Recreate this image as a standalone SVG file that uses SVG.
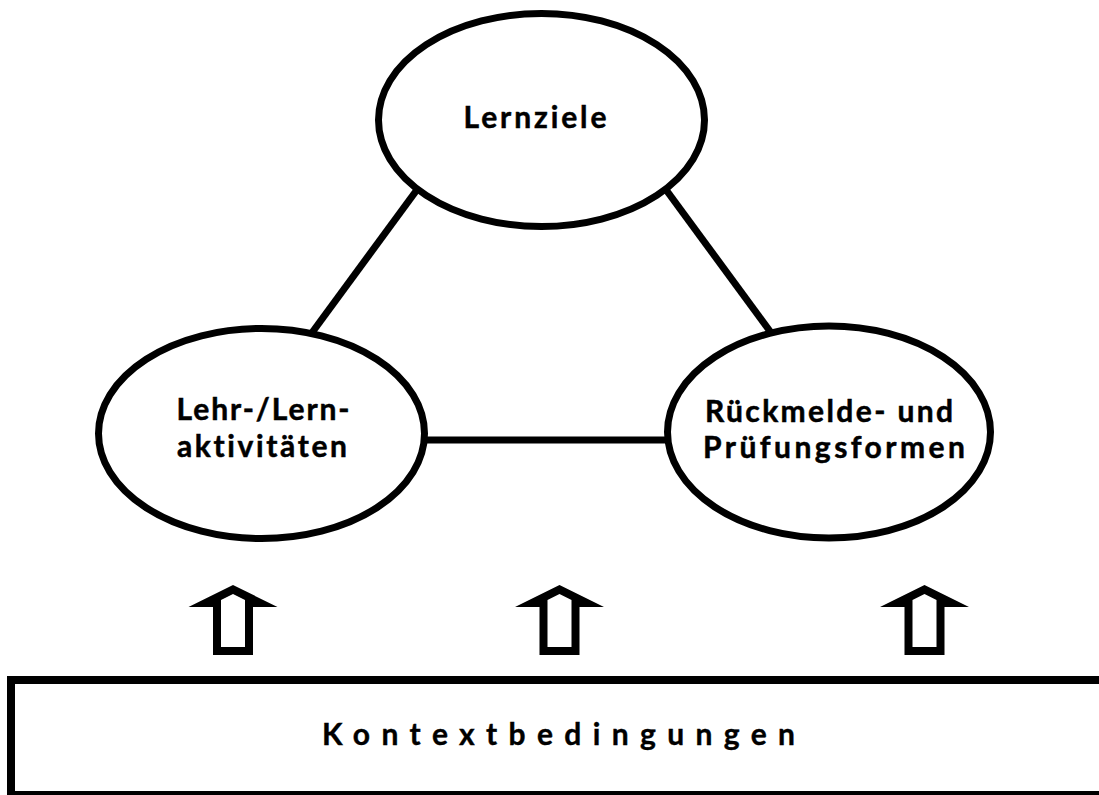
<svg xmlns="http://www.w3.org/2000/svg" width="1099" height="795" viewBox="0 0 1099 795">
<style>
.node{fill:#fff;stroke:#000;stroke-width:7}
.conn{stroke:#000;stroke-width:7;fill:none}
.lbl{font-family:Lato,"Open Sans","DejaVu Sans",sans-serif;font-weight:bold;font-size:30px;fill:#000;stroke:#000;stroke-width:0.5;text-anchor:middle;font-variant-ligatures:none}
.ctx{font-family:Lato,"Open Sans","DejaVu Sans",sans-serif;font-weight:bold;font-size:30px;fill:#000;stroke:#000;stroke-width:0.4;font-variant-ligatures:none}
</style>
<defs>
<g id="uparrow">
<path d="M0,585 L-44.5,607 L-20,607 L-20,655 L20,655 L20,607 L44.5,607 Z" fill="#000"/>
<path d="M0,594 L-12,600 L-12,647 L12,647 L12,600 Z" fill="#fff"/>
</g>
</defs>
<rect width="1099" height="795" fill="#fff"/>
<g id="connectors">
<line class="conn" x1="430" y1="172" x2="300" y2="349"/>
<line class="conn" x1="653" y1="172" x2="783" y2="349"/>
<line class="conn" x1="420" y1="440" x2="672" y2="440"/>
<use href="#uparrow" x="233"/>
<use href="#uparrow" x="559.5"/>
<use href="#uparrow" x="924.5"/>
</g>
<g id="node-lernziele">
<ellipse class="node" cx="541.5" cy="120" rx="163" ry="106.5"/>
<text class="lbl" x="535" y="128" textLength="143" lengthAdjust="spacing">Lernziele</text>
</g>
<g id="node-lehr">
<ellipse class="node" cx="261.5" cy="433.5" rx="163" ry="105"/>
<text class="lbl" x="263" y="420" textLength="173" lengthAdjust="spacing">Lehr-/Lern-</text>
<text class="lbl" x="262" y="457" textLength="170" lengthAdjust="spacing">aktivitäten</text>
</g>
<g id="node-rueck">
<ellipse class="node" cx="829" cy="432" rx="161.5" ry="106"/>
<text class="lbl" x="829" y="422" textLength="248" lengthAdjust="spacing">Rückmelde- und</text>
<text class="lbl" x="834" y="458" textLength="262" lengthAdjust="spacing">Prüfungsformen</text>
</g>
<g id="node-kontext">
<rect x="11" y="680" width="1100" height="115" fill="#fff" stroke="#000" stroke-width="8"/>
<text class="ctx" x="322" y="745" textLength="473" lengthAdjust="spacing">Kontextbedingungen</text>
</g>
</svg>
